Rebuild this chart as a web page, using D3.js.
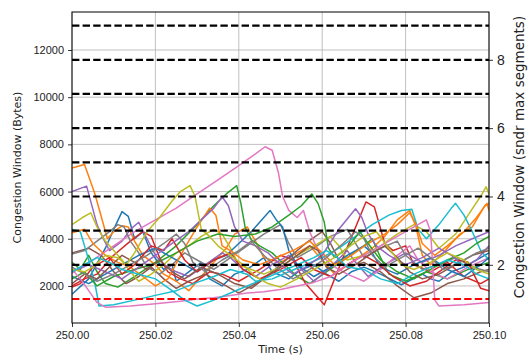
<!DOCTYPE html>
<html>
<head>
<meta charset="utf-8">
<script src="https://cdn.jsdelivr.net/npm/d3@7"></script>
<style>
	body { margin: 0; background: #fff; }
	svg { font-family: "DejaVu Sans", sans-serif; }
	.grid line { stroke: #b0b0b0; stroke-width: 0.8; }
</style>
</head>
<body>
<svg width="528" height="357"></svg>
<script>
/* DATA: [ms after 250 s, cwnd bytes] */
var t0 = 250;
var mss = 1448;
var xTicks = [250.0, 250.02, 250.04, 250.06, 250.08, 250.1];
var yTicks = [2000, 4000, 6000, 8000, 10000, 12000];
var segTicks = [2, 4, 6, 8];
var segLines = [1, 2, 3, 4, 5, 6, 7, 8, 9];

var blueA = [[0,1650],[4,2300],[8,3600],[10,4400],[12,5150],[13.5,4950],[15,4000],[17,4300],[19,3400],[22,2700],[24,2900],[25,2200],[28,2600],[31,3000],[33,2300],[36,2000],[39,2500],[42,2700],[46,3200],[48,2600],[52,2300],[55,2700],[58,2900],[61,2500],[64,2200],[67,2600],[70,2800],[74,2500],[79,2050],[84,2500],[86,2300],[88,2200],[91,2600],[94,2800],[100,3400]];
var orangeA = [[0,7000],[3,7150],[5.5,5900],[8.5,4000],[10,4300],[12,4550],[13.5,4500],[15,3900],[17,3300],[20,2900],[22,2500],[25,2200],[28,1800],[30,2200],[34,3000],[37,3600],[39,4200],[42,4500],[44,3900],[46,3200],[50,3000],[54,3400],[57,3700],[60,3100],[63,2500],[67,3000],[72,3600],[75,4100],[78,4800],[81,5200],[82.5,4500],[84,3300],[86,2900],[89,3400],[93,4200],[96,4500],[99,5400],[100,5500]];
var greenA = [[0,3000],[2,2700],[4,3300],[6,2600],[8,2100],[11,1950],[15,2400],[20,3000],[25,3700],[30,4600],[34,5400],[37,5900],[39.5,6250],[40.5,5500],[41.5,4500],[43,3950],[45,3700],[48,3400],[51,2900],[54,2400],[57,2100],[61,2600],[66,3200],[70,3700],[72,4000],[74,3200],[76,2500],[80,2200],[85,2600],[90,2300],[95,2700],[100,3000]];
var redA = [[0,2000],[3,2300],[6,2500],[10,3300],[14,3900],[17,4300],[19,4100],[21,3200],[23,2600],[26,2300],[29,2100],[33,2600],[36,2500],[40,2200],[45,2700],[50,3300],[53,3100],[56,2100],[60.5,1200],[65,3200],[70.5,5560],[72.5,5350],[75,3800],[77,3500],[80,3700],[82,2900],[86,2600],[90,3000],[94,2400],[98,2100],[100,2300]];
var purpleA = [[0,6000],[3.5,6230],[6,4600],[7.5,4000],[9,3500],[12,3900],[14,4400],[16,4700],[18,4000],[20,3300],[22,2900],[25,2600],[28,2400],[32,2900],[36,3400],[38,3200],[41,2700],[44,2400],[48,2900],[52,3300],[55,2700],[58,2200],[62,2800],[66,3500],[68,3000],[71,2400],[75,2900],[80,3400],[84,3000],[88,3300],[92,3700],[96,4000],[100,4300]];
var brownA = [[0,3400],[4,3600],[7,3300],[10,2600],[13,2100],[16,2400],[19,2800],[22,2300],[25,1900],[28,2200],[32,2500],[36,2100],[40,1700],[44,2100],[48,2600],[52,3200],[56,3800],[60,4300],[62,3800],[64,3100],[66,2800],[70,3000],[74,2600],[78,2000],[82,1500],[86,1700],[90,2100],[94,2300],[98,2600],[100,2700]];
var pinkA = [[0,2550],[5,3100],[10,3700],[15,4300],[20,4800],[25,5300],[30,5900],[35,6500],[40,7100],[44,7600],[46.3,7900],[48,7750],[49.5,6800],[50.5,5800],[52,5200],[54,4900],[55.5,5200],[57,4300],[59,3500],[62,2900],[66,2500],[70,2200],[74,2700],[78,3300],[81,3700],[83,3100],[86,2600],[90,2300],[95,2800],[100,3200]];
var grayA = [[0,3350],[3,3500],[6,3900],[9,4300],[11,4600],[12.5,4500],[14,3900],[16,3400],[18,2800],[21,2500],[24,2900],[27,3400],[30,3100],[34,2700],[38,3200],[42,3700],[46,4200],[50,4600],[52,3800],[54,3200],[58,3600],[62,4100],[66,4400],[68,3800],[70,3200],[74,3600],[78,3900],[80,3300],[84,2700],[88,2900],[92,3200],[96,2800],[100,2600]];
var oliveA = [[0,4600],[2.5,4900],[4.5,5100],[6,4500],[8,3900],[10,3500],[12,3100],[14,2600],[16,2200],[19,2500],[22,2900],[25,3400],[28,3700],[31,4100],[34,4400],[36,4200],[38,3600],[40,2900],[43,2700],[46,2500],[50,2800],[54,3300],[58,3700],[62,4100],[64,3700],[66,3100],[70,3300],[74,3700],[78,4200],[82,4600],[85,4300],[88,3600],[92,4200],[95,5000],[98,5800],[99.3,6200],[100,5900]];
var cyanA = [[0,4400],[2,4300],[3,3700],[4.5,2800],[5.5,2100],[6.5,1150],[10,1200],[15,1400],[20,1600],[25,1800],[30,2150],[34,2400],[38,2700],[42,2500],[44,2200],[48,2300],[52,2600],[56,2900],[60,3200],[64,3600],[68,4100],[72,4600],[76,5000],[79,5200],[81.5,5250],[83,4400],[85,4000],[88,4600],[91,5300],[92,5500],[94,5000],[96,4300],[98,3500],[100,3100]];
var blueB = [[0,2400],[4,2100],[8,2500],[12,2900],[16,3300],[20,3600],[24,3200],[27,2900],[30,2600],[34,3100],[37,3300],[40,3800],[43,4300],[45,4700],[47.5,5200],[49,4800],[50.5,4500],[52,3500],[54,2900],[58,2400],[62,2800],[66,3300],[70,3700],[72,3400],[74,2800],[78,2500],[82,2900],[86,3200],[90,2700],[94,2400],[98,2900],[100,3200]];
var orangeB = [[0,4250],[3,4400],[5,3800],[8,3300],[11,3000],[14,2800],[17,2400],[20,2000],[23,2300],[27,3600],[30,4500],[33,5300],[34.5,5000],[36,3700],[38,3500],[41,3100],[45,2900],[49,3200],[53,3500],[57,3900],[60,3400],[63,2900],[67,3300],[71,3800],[75,4200],[78,4600],[81,5100],[82.5,4600],[84,3800],[87,3300],[90,3700],[94,4300],[97,4900],[99.5,5500],[100,5200]];
var greenB = [[0,2300],[3,2600],[6,2000],[10,2400],[15,2700],[20,2950],[25,3400],[30,3900],[35,4200],[39,4100],[44,4200],[48,4500],[52,5000],[55,5400],[57.5,5900],[59,5500],[60.5,4700],[61.5,3600],[63,3200],[66,3600],[69,4300],[71,3800],[74,3100],[78,2600],[82,2300],[86,2700],[90,3100],[94,3400],[97,3800],[100,4100]];
var redB = [[0,1950],[2,2100],[5,2800],[9,3200],[12,2500],[15,2900],[19,3700],[22,3500],[24,4000],[27,3100],[30,2600],[34,3100],[38,3400],[41,2700],[45,2300],[50,2700],[55,3200],[58,2700],[62,2400],[66,2900],[70,3300],[73,3000],[77,2400],[81,2000],[85,2200],[88,2600],[92,3100],[95,3000],[98,1900],[100,1800]];
var purpleB = [[0,2600],[4,2900],[8,2600],[12,2300],[16,2800],[20,3300],[24,3800],[28,4300],[31,4800],[34,5300],[36,5780],[37.5,5400],[39,4500],[41,3900],[44,3700],[47,3400],[50,2900],[53,2500],[56,2800],[60,3300],[64,4400],[68,5270],[69.5,4900],[71,4200],[73,3700],[76,3300],[80,2900],[84,3200],[88,3600],[91,3300],[94,2800],[97,3100],[100,3700]];
var brownB = [[0,2100],[3,2500],[6,2300],[9,2800],[12,3300],[15,3000],[18,2700],[21,3100],[24,2600],[27,2300],[31,2800],[35,2500],[39,2100],[43,1900],[46,2300],[50,2800],[54,3300],[57,3700],[59,3500],[61,2800],[64,2500],[68,2900],[72,3400],[75,3700],[78,3200],[81,2600],[84,2300],[88,2500],[92,2900],[96,3300],[100,3500]];
var pinkB = [[0,2700],[2,2300],[4,1800],[6,1300],[8,1100],[14,1150],[20,1250],[26,1350],[30,1450],[34,1500],[38,1600],[42,1700],[46,1750],[50,1850],[54,2000],[58,2150],[62,2400],[66,2900],[70,3300],[74,3700],[78,4100],[82,4500],[85,4800],[86,4300],[87,1400],[88,1150],[94,1200],[100,1300]];
var grayB = [[0,2800],[3,2500],[6,2200],[10,2500],[14,2900],[18,3300],[22,3800],[25,4200],[27,3800],[29,3000],[32,2600],[36,3100],[40,3500],[43,3900],[46,3300],[49,2800],[53,2300],[57,2700],[61,3200],[65,3800],[68,4300],[70,4000],[72,3300],[75,2800],[79,3200],[83,3600],[86,3200],[89,2700],[93,3000],[97,3400],[100,3600]];
var oliveB = [[0,2700],[3,2600],[5,2800],[8,3300],[11,3200],[13,2900],[15,3400],[18,4300],[21,4900],[24,5600],[26,6000],[28.3,6250],[29.5,5800],[31,4400],[33,4100],[35,3700],[38,3300],[41,2900],[44,2400],[47,2100],[50,1950],[54,2300],[58,2700],[62,3100],[66,3600],[70,4100],[73,4300],[76,3600],[79,2900],[82,2700],[86,3000],[90,3400],[94,3100],[97,2700],[100,2500]];
var cyanB = [[0,2600],[3,2900],[6,3200],[9,3000],[12,2700],[16,2500],[20,2300],[24,1800],[27,1400],[30,1150],[34,1400],[38,1700],[42,2000],[46,2300],[50,2600],[54,2900],[58,3200],[61,3500],[63,3300],[66,2800],[70,2700],[74,2300],[78,2100],[82,2500],[86,2800],[90,3100],[94,2900],[97,2500],[100,2300]];

var flows = [blueA, orangeA, greenA, redA, purpleA, brownA, pinkA, grayA, oliveA, cyanA,
	blueB, orangeB, greenB, redB, purpleB, brownB, pinkB, grayB, oliveB, cyanB];

/* SVG */
var svg = d3.select("svg");
var margin = { left: 72, right: 489, top: 12, bottom: 323 };

var x = d3.scaleLinear().domain([250.0, 250.1]).range([margin.left, margin.right]);
var y = d3.scaleLinear().domain([430, 13610]).range([margin.bottom, margin.top]);
var ySeg = d3.scaleLinear().domain([430 / mss, 13610 / mss]).range([margin.bottom, margin.top]);
var color = d3.scaleOrdinal(d3.schemeCategory10);

svg.append("defs").append("clipPath").attr("id", "plot")
	.append("rect")
	.attr("x", margin.left).attr("y", margin.top)
	.attr("width", margin.right - margin.left)
	.attr("height", margin.bottom - margin.top);

/* GRID */
var grid = svg.append("g").attr("class", "grid");
grid.selectAll("line.gx").data(xTicks).enter().append("line")
	.attr("x1", function (d) { return x(d); }).attr("x2", function (d) { return x(d); })
	.attr("y1", margin.top).attr("y2", margin.bottom);
grid.selectAll("line.gy").data(yTicks).enter().append("line")
	.attr("y1", function (d) { return y(d); }).attr("y2", function (d) { return y(d); })
	.attr("x1", margin.left).attr("x2", margin.right);

/* FLOWS */
var line = d3.line()
	.x(function (d) { return x(t0 + d[0] / 1000); })
	.y(function (d) { return y(d[1]); });

svg.append("g").attr("clip-path", "url(#plot)")
	.selectAll("path").data(flows).enter().append("path")
	.attr("d", line)
	.attr("fill", "none")
	.attr("stroke-width", 1.5)
	.attr("stroke-linejoin", "round")
	.attr("stroke", function (d, i) { return color(i % 10); });

/* SEGMENT LINES */
svg.append("g").selectAll("line").data(segLines).enter().append("line")
	.attr("x1", margin.left).attr("x2", margin.right)
	.attr("y1", function (d) { return ySeg(d); })
	.attr("y2", function (d) { return ySeg(d); })
	.attr("stroke", function (d) { return d === 1 ? "red" : "black"; })
	.attr("stroke-width", 2.2)
	.attr("stroke-dasharray", "7.4,3.2");

/* AXES */
var xAxis = d3.axisBottom(x).tickValues(xTicks).tickFormat(d3.format(".2f")).tickSize(4).tickPadding(4);
var yAxis = d3.axisLeft(y).tickValues(yTicks).tickFormat(d3.format("d")).tickSize(4).tickPadding(4);
var segAxis = d3.axisRight(ySeg).tickValues(segTicks).tickSize(4).tickPadding(4);

var gx = svg.append("g").attr("transform", "translate(0," + margin.bottom + ")").call(xAxis);
var gy = svg.append("g").attr("transform", "translate(" + margin.left + ",0)").call(yAxis);
var gs = svg.append("g").attr("transform", "translate(" + margin.right + ",0)").call(segAxis);
[gx, gy].forEach(function (g) {
	g.selectAll("text").attr("font-size", 11).attr("fill", "#222");
});
gs.selectAll("text").attr("font-size", 14).attr("fill", "#222");
[gx, gy, gs].forEach(function (g) {
	g.select(".domain").remove();
	g.selectAll(".tick line").attr("stroke", "#000").attr("stroke-width", 0.8);
});

// frame
svg.append("rect")
	.attr("x", margin.left).attr("y", margin.top)
	.attr("width", margin.right - margin.left)
	.attr("height", margin.bottom - margin.top)
	.attr("fill", "none").attr("stroke", "#000").attr("stroke-width", 1);

/* LABELS */
svg.append("text")
	.attr("x", (margin.left + margin.right) / 2).attr("y", 353)
	.attr("text-anchor", "middle").attr("font-size", 11).attr("fill", "#222")
	.text("Time (s)");
svg.append("text")
	.attr("transform", "translate(21," + (margin.top + margin.bottom) / 2 + ") rotate(-90)")
	.attr("text-anchor", "middle").attr("font-size", 11).attr("fill", "#222")
	.text("Congestion Window (Bytes)");
svg.append("text")
	.attr("transform", "translate(524,157) rotate(-90)")
	.attr("text-anchor", "middle").attr("font-size", 13.5).attr("fill", "#222")
	.text("Congestion Window (sndr max segments)");
</script>
</body>
</html>
